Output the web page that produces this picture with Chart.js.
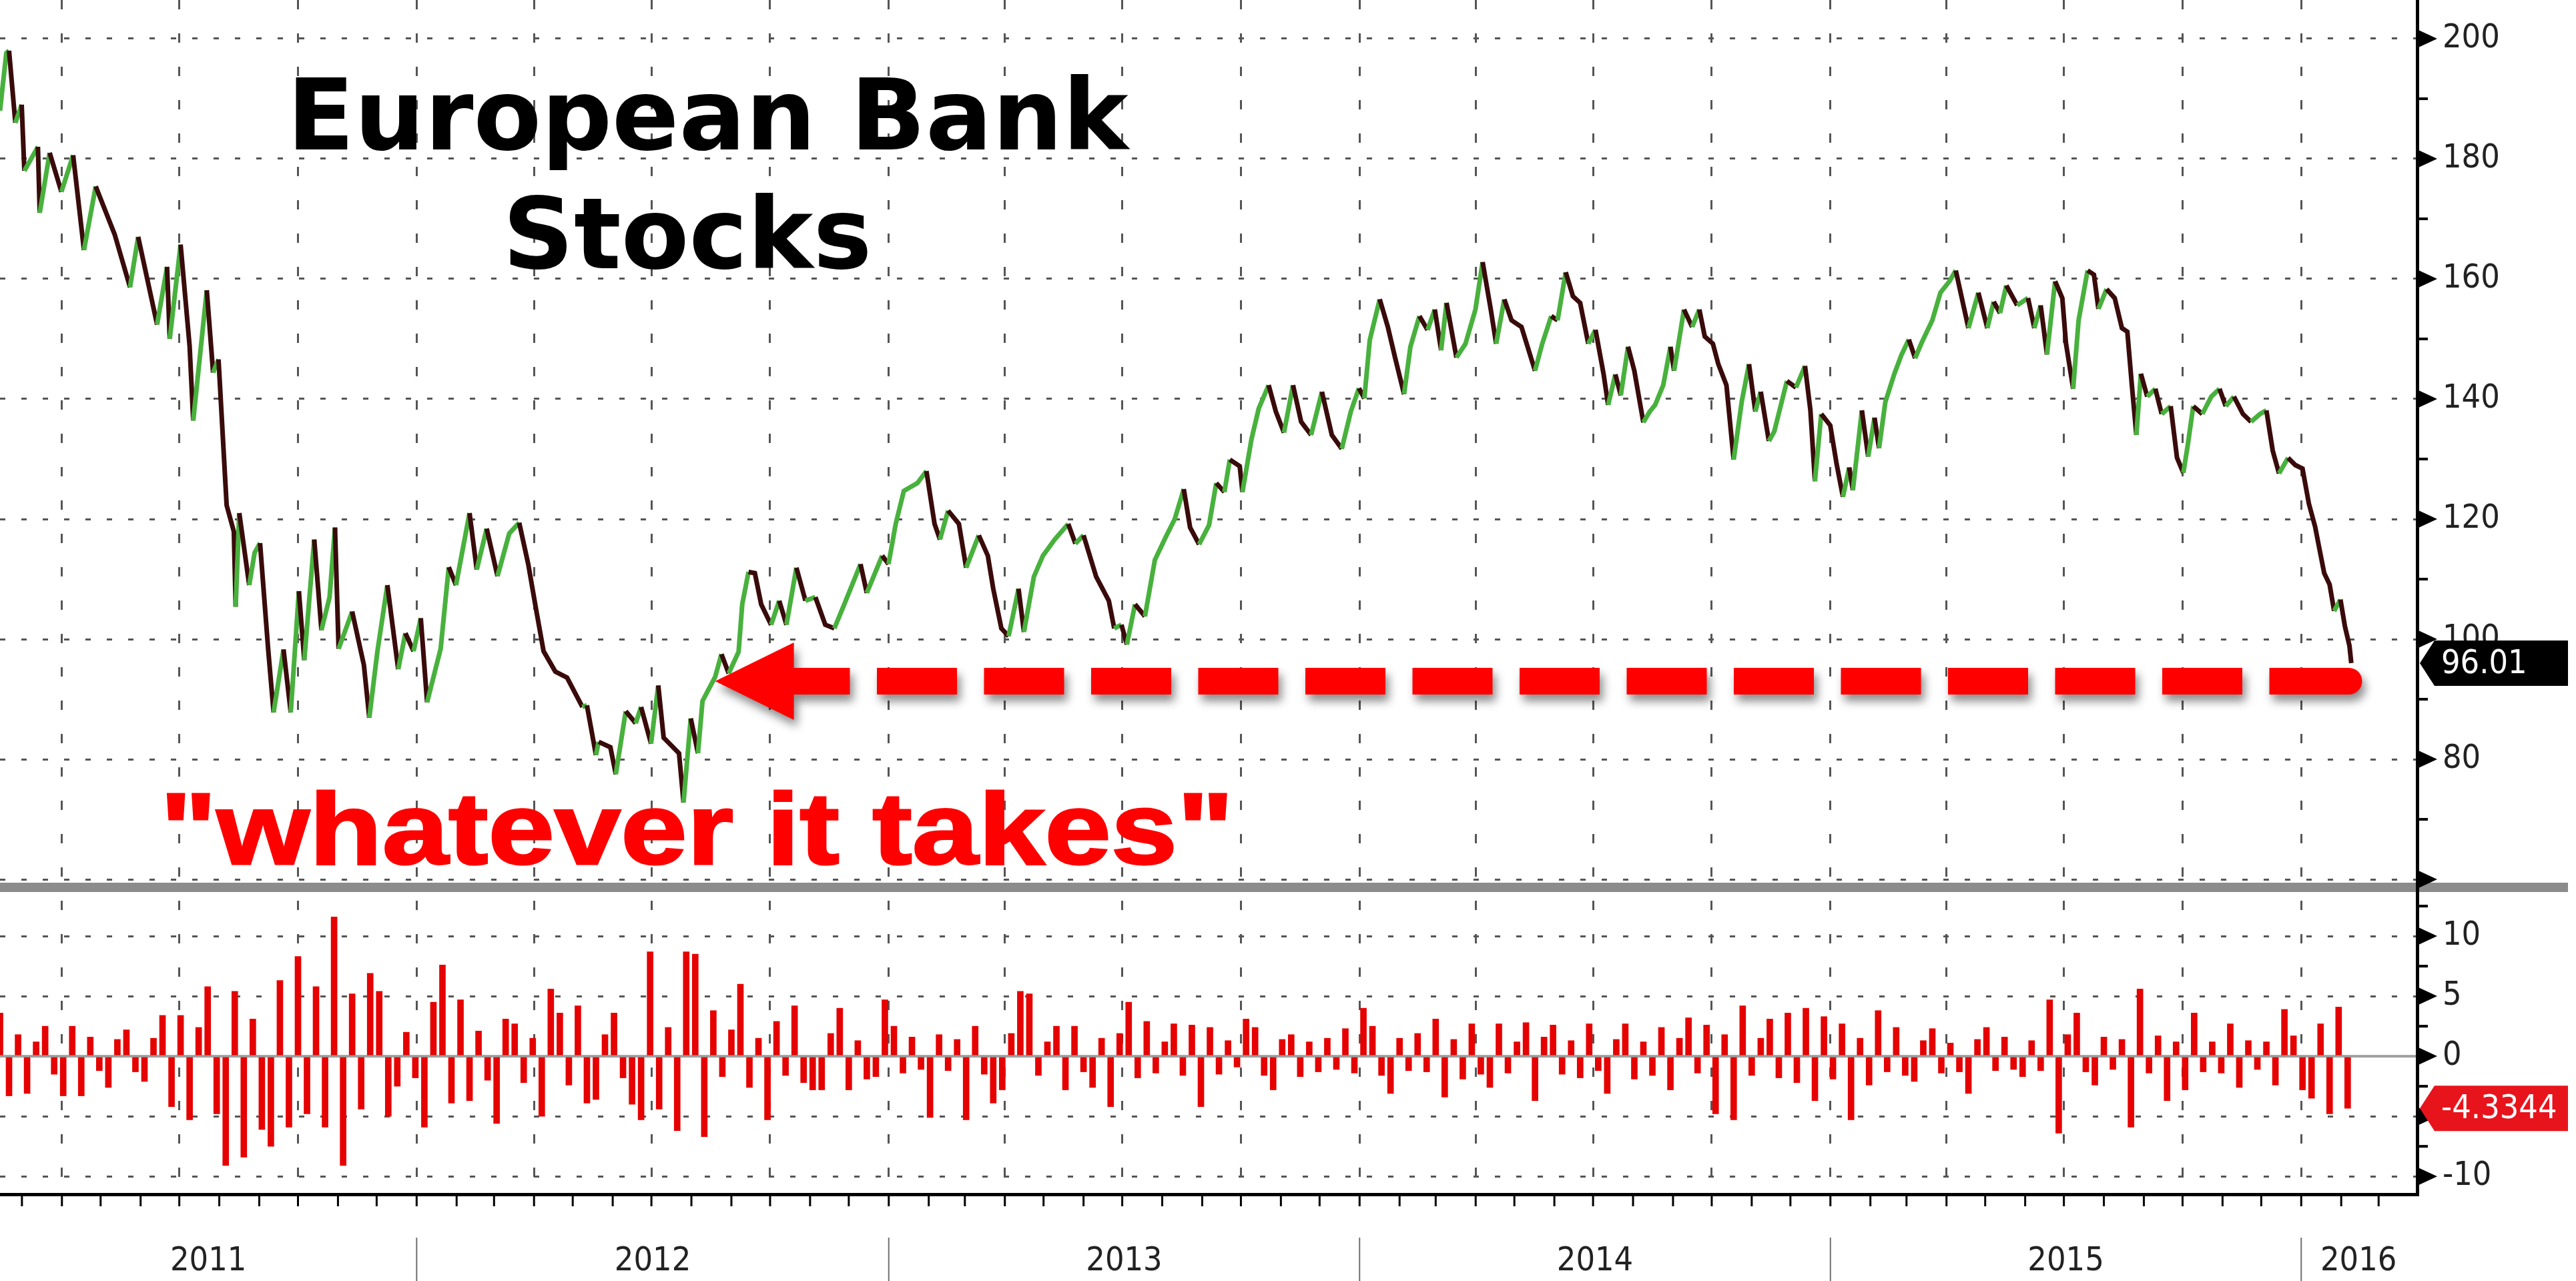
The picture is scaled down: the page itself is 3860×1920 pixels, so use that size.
<!DOCTYPE html>
<html>
<head>
<meta charset="utf-8">
<title>European Bank Stocks</title>
<script src="https://cdn.jsdelivr.net/npm/chart.js@4.4.1/dist/chart.umd.min.js"></script>
<style>
    html, body { margin: 0; padding: 0; background: #fff; }
    #wrap { position: relative; width: 3860px; height: 1920px; overflow: hidden; }
    #chart { position: absolute; left: 0; top: 0; }
    .note { position: absolute; white-space: nowrap; }
    #title {
        left: 430px; top: 84px; width: 1200px; text-align: center;
        font: bold 148px/178px "DejaVu Sans", sans-serif; color: #000;
    }
    #quote {
        left: 240px; top: 1166px;
        font: bold 152px/152px "Liberation Sans", Arial, sans-serif; color: #ff0000;
        -webkit-text-stroke: 3px #ff0000;
        transform: scaleX(1.175); transform-origin: 0 0;
    }
</style>
</head>
<body>
<div id="wrap">
    <canvas id="chart" width="3860" height="1920"></canvas>
    <div class="note" id="title">European Bank<br>Stocks</div>
    <div class="note" id="quote">"whatever it takes"</div>
</div>
<script>
// time axis is in weeks since the first close on the chart (12 Feb 2011)
const START = Date.UTC(2011, 1, 12);
const WEEK_MS = 7 * 24 * 3600 * 1000;
const X_MAX = 267.55;

// index level (week, close)
const priceWeeks = [
    0, 0.7, 1.0, 1.7, 2.4, 2.7, 4.2, 4.4, 5.5, 6.8,
    8.1, 9.3, 10.6, 12.7, 14.4, 15.3, 17.4, 18.5, 18.8, 20.0,
    21.0, 21.4, 22.9, 23.6, 24.2, 25.1, 25.9, 26.1, 26.5, 27.6,
    28.2, 28.8, 29.7, 30.3, 31.4, 32.2, 33.1, 33.7, 34.8, 35.6,
    36.5, 37.1, 37.5, 39.0, 40.3, 40.9, 41.8, 42.9, 44.1, 44.9,
    45.8, 46.6, 47.3, 48.8, 49.7, 50.5, 52.0, 52.8, 53.9, 55.1,
    56.4, 57.5, 58.5, 59.4, 60.2, 61.5, 62.8, 64.5, 65.0, 66.0,
    66.3, 67.6, 68.2, 69.3, 70.4, 71.0, 72.1, 72.9, 73.5, 75.2,
    75.7, 76.5, 77.3, 77.8, 79.2, 79.9, 80.7, 81.8, 82.2, 82.9,
    83.6, 84.3, 85.4, 86.3, 87.1, 88.2, 89.2, 90.3, 91.4, 92.4,
    93.5, 95.3, 96.0, 97.7, 98.4, 99.2, 100.1, 101.6, 102.6, 103.5,
    104.1, 105.0, 106.2, 107.0, 108.4, 109.4, 110.0, 110.9, 111.7, 112.8,
    113.4, 114.5, 115.5, 116.8, 118.3, 119.1, 120.0, 121.4, 122.8, 123.4,
    124.2, 124.8, 125.7, 126.8, 127.9, 129.1, 130.1, 131.1, 131.8, 132.8,
    133.9, 134.7, 135.6, 136.2, 137.3, 137.6, 138.6, 139.4, 140.5, 141.3,
    142.2, 143.2, 144.1, 145.2, 146.4, 147.5, 148.6, 149.6, 150.5, 151.1,
    151.7, 152.8, 153.7, 154.5, 155.5, 156.2, 157.2, 158.1, 158.9, 159.6,
    160.2, 161.3, 162.3, 163.4, 164.2, 165.1, 165.7, 166.6, 167.4, 168.5,
    170.0, 170.8, 171.8, 172.5, 173.4, 174.2, 175.0, 175.9, 176.7, 177.6,
    178.1, 178.9, 179.5, 180.3, 181.0, 182.0, 182.7, 183.3, 184.2, 185.0,
    185.4, 186.5, 187.4, 188.2, 188.8, 189.7, 190.3, 191.2, 192.0, 192.9,
    193.7, 194.4, 195.0, 195.9, 196.5, 197.9, 198.9, 199.9, 200.5, 201.0,
    201.7, 202.7, 203.4, 204.1, 204.8, 205.2, 206.2, 206.9, 207.6, 208.1,
    208.8, 209.8, 210.6, 211.4, 212.1, 212.8, 214.0, 214.9, 215.9, 216.6,
    218.0, 219.1, 220.1, 220.8, 221.5, 222.2, 223.4, 224.6, 225.3, 226.0,
    226.7, 227.6, 228.4, 228.8, 229.6, 230.2, 231.2, 231.9, 232.4, 233.3,
    234.2, 235.0, 235.6, 236.1, 236.6, 237.1, 237.8, 238.7, 239.4, 240.4,
    241.1, 241.8, 242.3, 242.9, 243.9, 244.9, 245.8, 246.5, 247.4, 248.4,
    249.3, 250.3, 251.0, 251.7, 252.4, 253.4, 254.2, 255.0, 255.7, 256.4,
    256.8, 257.4, 258.0, 258.5, 259.2, 259.7, 260.2, 260.4
];
const priceValues = [
    188, 197.6, 198, 186, 189, 178, 182, 171, 181, 174.5,
    180.6, 164.8, 175.4, 167.4, 158.6, 167, 152.4, 162, 150, 165.7,
    148.8, 136.4, 158.1, 144.4, 146.6, 122.3, 117.9, 105.4, 121, 109,
    114.4, 116, 98.3, 87.8, 98.3, 87.8, 108, 96.5, 116.6, 101.5,
    107, 118.6, 98.4, 104.6, 95.7, 86.9, 98, 109, 95, 101,
    98, 103.5, 89.5, 98.4, 112, 109, 121, 111.6, 118.4, 110.5,
    117.6, 119.4, 112.5, 104.7, 98, 94.6, 93.6, 88.7, 89, 80.7,
    82.9, 82, 77.5, 88, 86, 88.7, 82.6, 92.3, 83.6, 81,
    72.8, 86.8, 81, 89.7, 93.7, 97.5, 94.3, 97.9, 105.8, 111.2,
    111, 105.8, 102.4, 106.4, 102.4, 111.9, 106.4, 107, 102.4, 101.8,
    105.8, 112.5, 107.7, 113.9, 112.5, 119.2, 124.7, 126, 128, 119.2,
    116.6, 121.4, 119.2, 111.9, 117.3, 113.9, 108.4, 101.8, 100.5, 108.4,
    101.2, 110.4, 113.9, 116.6, 119.2, 115.9, 117.3, 110.4, 106.4, 101.8,
    102.4, 99.1, 105.8, 103.8, 113.2, 117, 120, 125, 118.6, 115.8,
    119, 126, 124.5, 129.9, 128.8, 124.5, 133.3, 138.4, 142.3, 137.9,
    134.4, 142.3, 136.2, 134, 141.2, 134, 131.7, 137.9, 141.8, 140.1,
    149.8, 156.6, 152, 146.9, 140.8, 148.7, 153.8, 151.5, 154.9, 148.1,
    156, 146.9, 149.2, 154.9, 162.8, 154.9, 149.2, 156.6, 153.1, 152,
    144.7, 149.2, 153.8, 153.1, 161.1, 157.1, 156, 149.2, 151.5, 144.1,
    139, 144.1, 140.6, 148.7, 144.7, 136.1, 137.9, 139, 142.3, 148.7,
    144.7, 154.9, 152, 154.9, 150.4, 149.2, 145.8, 142.3, 129.9, 139.6,
    145.8, 137.9, 141.2, 133, 134.6, 143, 141.9, 145.5, 138.1, 126.3,
    137.5, 135.6, 129.2, 123.7, 128.6, 124.8, 138.1, 130.4, 136.9, 131.8,
    139.5, 144.2, 147.4, 149.9, 146.8, 149.3, 153.1, 157.7, 159.6, 161.4,
    151.8, 157.7, 151.8, 156.2, 154.3, 158.9, 155.6, 156.8, 151.8, 155.6,
    147.4, 159.6, 156.8, 149.3, 141.7, 153.1, 161.4, 160.7, 155, 158.3,
    156.8, 151.8, 151.2, 142.3, 134, 144.2, 140.4, 141.7, 137.5, 138.8,
    130.2, 127.7, 132.4, 138.8, 137.5, 140.4, 141.7, 138.8, 140.4, 137.5,
    136.2, 137.5, 138.1, 131.4, 127.6, 130.2, 129, 128.4, 122.6, 118.7,
    115.6, 111, 109.1, 104.7, 106.6, 102.1, 98.9, 96.01
];

// % change panel, one bar per week from week 0
const changeValues = [
    3.6, -3.3, 1.8, -3.1, 1.2, 2.5, -1.5, -3.3, 2.5, -3.3,
    1.6, -1.2, -2.6, 1.4, 2.2, -1.3, -2.1, 1.5, 3.4, -4.2,
    3.4, -5.3, 2.4, 5.8, -4.8, -9.1, 5.4, -8.4, 3.1, -6.1,
    -7.5, 6.3, -5.9, 8.3, -4.8, 5.8, -5.9, 11.6, -9.1, 5.2,
    -4.4, 6.9, 5.4, -5, -2.5, 2, -1.8, -5.9, 4.5, 7.6,
    -3.9, 4.7, -3.7, 2.1, -2, -5.6, 3.1, 2.7, -2.2, 1.5,
    -5, 5.6, 3.6, -2.4, 4.2, -3.9, -3.6, 1.8, 3.6, -1.8,
    -4, -5.3, 8.7, -4.4, 2.4, -6.2, 8.7, 8.5, -6.7, 3.8,
    -1.7, 2.2, 6, -2.6, 1.5, -5.3, 2.9, -1.6, 4.2, -2.2,
    -2.8, -2.8, 1.9, 4, -2.8, 1.3, -1.9, -1.7, 4.7, 2.5,
    -1.4, 1.6, -1.1, -5.1, 1.8, -1.2, 1.4, -5.3, 2.5, -1.5,
    -3.9, -2.8, 1.9, 5.4, 5.2, -1.6, 1.2, 2.5, -2.8, 2.5,
    -1.3, -2.6, 1.5, -4.2, 1.9, 4.5, -1.8, 2.9, -1.4, 1.2,
    2.7, -1.6, 2.6, -4.2, 2.4, -1.5, 1.3, -0.9, 3.1, 2.4,
    -1.6, -2.8, 1.4, 1.8, -1.7, 1.2, -1.3, 1.5, -1.1, 2.3,
    -1.4, 4, 2.5, -1.6, -3.1, 1.5, -1.2, 1.9, -1.3, 3.1,
    -3.4, 1.4, -1.9, 2.7, -1.5, -2.6, 2.7, -1.4, 1.2, 2.8,
    -3.7, 1.6, 2.6, -1.5, 1.3, -1.8, 2.7, -1.2, -3.1, 1.4,
    2.7, -1.9, 1.2, -1.6, 2.4, -2.8, 1.5, 3.2, -1.4, 2.6,
    -4.8, 1.8, -5.3, 4.2, -1.6, 1.5, 3.1, -1.8, 3.6, -2.2,
    4, -3.7, 3.3, -1.9, 2.7, -5.3, 1.5, -2.4, 3.8, -1.3,
    2.4, -1.6, -2.1, 1.3, 2.3, -1.4, 1.1, -1.3, -3.1, 1.4,
    2.4, -1.2, 1.6, -1.1, -1.7, 1.3, -1.2, 4.7, -6.4, 1.8,
    3.6, -1.3, -2.4, 1.6, -1.1, 1.4, -5.9, 5.6, -1.4, 1.7,
    -3.7, 1.2, -2.8, 3.6, -1.3, 1.2, -1.4, 2.7, -2.6, 1.3,
    -1.1, 1.2, -2.4, 3.9, 1.7, -2.8, -3.5, 2.7, -4.8, 4.1,
    -4.3344
];

const yearLabels = ['2011', '2012', '2013', '2014', '2015', '2016'];

// the red arrow: level carried back to the July 2012 speech
const arrowLevel = 93;
const arrowWeeks = [79.2, 261.6];

const GREEN = '#48b13d';
const DARK = '#3a0b0b';
const RED = '#ff0000';
const GRID = '#555555';
const AXIS_FONT = { family: "'DejaVu Sans Condensed', 'DejaVu Sans', sans-serif", size: 50 };

function weekOf(y, m, d) {
    return (Date.UTC(y, m, d) - START) / WEEK_MS;
}

function buildXTicks(scale) {
    const ticks = [];
    yearLabels.forEach(label => {
        const yr = Number(label);
        for (let m = 0; m < 12; m += 3) {
            const w = weekOf(yr, m, 1);
            if (w > scale.min && w < scale.max) ticks.push({ value: w, grid: true, text: '' });
        }
        // year name sits in the middle of the visible part of the year
        const lo = Math.max(scale.min, weekOf(yr, 0, 1));
        const hi = Math.min(scale.max, weekOf(yr + 1, 0, 1));
        if (hi > lo) ticks.push({ value: (lo + hi) / 2, grid: false, text: label });
    });
    ticks.sort((a, b) => a.value - b.value);
    scale.ticks = ticks;
}

function panelTicks(from, to, step, bigStep) {
    return function (scale) {
        const ticks = [];
        for (let v = from; v <= to + 1e-9; v += step) {
            ticks.push({ value: v, big: Math.abs(v % bigStep) < 1e-9 });
        }
        scale.ticks = ticks;
    };
}

function fitRight(scale) {
    scale.width = 240;
    scale.paddingTop = 0;
    scale.paddingBottom = 0;
}

function drawArrow(chart) {
    const { ctx, scales: { x, y } } = chart;
    const yc = y.getPixelForValue(arrowLevel);
    const tip = x.getPixelForValue(arrowWeeks[0]);
    const end = x.getPixelForValue(arrowWeeks[1]);
    const half = 20, headLen = 118, headHalf = 58, dash = 120, gap = 40.5, lastDash = 139;
    const base = tip + headLen;

    ctx.save();
    ctx.fillStyle = RED;
    ctx.shadowColor = 'rgba(0,0,0,0.45)';
    ctx.shadowBlur = 14;
    ctx.shadowOffsetX = 5;
    ctx.shadowOffsetY = 10;
    ctx.beginPath();
    ctx.moveTo(tip, yc);
    ctx.lineTo(base, yc - headHalf);
    ctx.lineTo(base, yc + headHalf);
    ctx.closePath();

    let right = end;
    let first = true;
    while (right > base) {
        const left = Math.max(base, right - (first ? lastDash : dash));
        if (first) {
            ctx.moveTo(left, yc - half);
            ctx.lineTo(right - half, yc - half);
            ctx.arc(right - half, yc, half, -Math.PI / 2, Math.PI / 2);
            ctx.lineTo(left, yc + half);
            ctx.closePath();
        } else {
            ctx.rect(left, yc - half, right - left, 2 * half);
        }
        right = left - gap;
        first = false;
    }
    ctx.fill();
    ctx.restore();
}

function drawFrame(chart) {
    const { ctx, chartArea: a, scales: { x, y, y2 } } = chart;
    ctx.save();

    // zero line of the change panel
    const y0 = y2.getPixelForValue(0);
    ctx.fillStyle = 'rgba(128,128,128,0.75)';
    ctx.fillRect(a.left, y0 - 2, a.right - a.left, 4);

    // grey bar between the panels
    ctx.fillStyle = '#8c8c8c';
    ctx.fillRect(0, y.bottom - 7, chart.width - 12, 14);

    ctx.fillStyle = '#000';
    ctx.fillRect(a.right, 0, 5, a.bottom + 5);
    ctx.fillRect(0, a.bottom, a.right + 5, 5);

    [y, y2].forEach(s => s.ticks.forEach(t => {
        const py = s.getPixelForValue(t.value);
        if (t.big) {
            ctx.beginPath();
            ctx.moveTo(a.right + 4, py - 13);
            ctx.lineTo(a.right + 32, py);
            ctx.lineTo(a.right + 4, py + 13);
            ctx.closePath();
            ctx.fill();
        } else {
            ctx.fillRect(a.right + 4, py - 2, 14, 4);
        }
    }));

    yearLabels.forEach(label => {
        const yr = Number(label);
        for (let m = 0; m < 12; m++) {
            const w = weekOf(yr, m, 1);
            if (w <= x.min || w >= x.max) continue;
            ctx.fillRect(x.getPixelForValue(w) - 1.5, a.bottom + 5, 3, 15);
        }
    });

    ctx.fillStyle = '#707070';
    yearLabels.forEach(label => {
        const w = weekOf(Number(label), 0, 1);
        if (w <= x.min || w >= x.max) return;
        ctx.fillRect(x.getPixelForValue(w) - 1, a.bottom + 67, 2, chart.height - a.bottom - 67);
    });
    ctx.restore();
}

function drawTag(chart, py, text, fill) {
    const { ctx, chartArea: a } = chart;
    const right = chart.width - 12;
    ctx.save();
    ctx.beginPath();
    ctx.moveTo(a.right + 6, py);
    ctx.lineTo(a.right + 28, py - 34);
    ctx.lineTo(right, py - 34);
    ctx.lineTo(right, py + 34);
    ctx.lineTo(a.right + 28, py + 34);
    ctx.closePath();
    ctx.fillStyle = fill;
    ctx.fill();
    ctx.fillStyle = '#fff';
    ctx.font = AXIS_FONT.size + 'px ' + AXIS_FONT.family;
    ctx.textAlign = 'left';
    ctx.textBaseline = 'middle';
    ctx.fillText(text, a.right + 38, py + 2);
    ctx.restore();
}

const decorations = {
    id: 'decorations',
    afterDatasetsDraw(chart) {
        drawArrow(chart);
    },
    afterDraw(chart) {
        drawFrame(chart);
        const lastPrice = priceValues[priceValues.length - 1];
        const lastChange = changeValues[changeValues.length - 1];
        drawTag(chart, chart.scales.y.getPixelForValue(lastPrice), lastPrice.toFixed(2), '#000');
        drawTag(chart, chart.scales.y2.getPixelForValue(lastChange), String(lastChange), '#e8141c');
    }
};

const priceChart = new Chart(document.getElementById('chart'), {
    type: 'bar',
    data: {
        datasets: [{
            type: 'line',
            label: 'European bank stocks',
            data: priceWeeks.map((w, i) => ({ x: w, y: priceValues[i] })),
            yAxisID: 'y',
            borderColor: GREEN,
            borderWidth: 7,
            pointRadius: 0,
            tension: 0,
            segment: {
                borderColor: c => c.p1.parsed.y >= c.p0.parsed.y ? GREEN : DARK
            }
        }, {
            type: 'bar',
            label: '% change',
            data: changeValues.map((v, i) => ({ x: i, y: v })),
            yAxisID: 'y2',
            backgroundColor: '#e60000',
            barThickness: 9
        }]
    },
    options: {
        responsive: false,
        devicePixelRatio: 1,
        animation: false,
        events: [],
        layout: { padding: 0 },
        plugins: {
            legend: { display: false },
            tooltip: { enabled: false }
        },
        scales: {
            x: {
                type: 'linear',
                min: 0,
                max: X_MAX,
                offset: false,
                afterBuildTicks: buildXTicks,
                afterFit: s => { s.height = 132; s.paddingLeft = 0; s.paddingRight = 0; },
                grid: {
                    color: c => (c.tick && c.tick.grid) ? GRID : 'rgba(0,0,0,0)',
                    lineWidth: 3,
                    drawTicks: false,
                    offset: false
                },
                border: { display: false, dash: [14, 36] },
                ticks: {
                    autoSkip: false,
                    maxRotation: 0,
                    padding: 73,
                    color: '#222',
                    font: AXIS_FONT,
                    callback: (v, i, t) => t[i].text
                }
            },
            y: {
                type: 'linear',
                position: 'right',
                stack: 'panels',
                stackWeight: 1330,
                min: 58.67,
                max: 206.44,
                afterBuildTicks: panelTicks(60, 200, 10, 20),
                afterFit: fitRight,
                grid: {
                    color: c => (c.tick && c.tick.big) ? GRID : 'rgba(0,0,0,0)',
                    lineWidth: 3,
                    drawTicks: false
                },
                border: { display: false, dash: [8, 24] },
                ticks: {
                    autoSkip: false,
                    padding: 40,
                    color: '#222',
                    font: AXIS_FONT,
                    callback: (v, i, t) => (t[i].big && v >= 80) ? String(v) : ''
                }
            },
            y2: {
                type: 'linear',
                position: 'right',
                stack: 'panels',
                stackWeight: 458,
                min: -11.38,
                max: 14.06,
                afterBuildTicks: panelTicks(-10, 12.5, 2.5, 5),
                afterFit: fitRight,
                grid: {
                    color: c => (c.tick && c.tick.big && c.tick.value !== 0) ? GRID : 'rgba(0,0,0,0)',
                    lineWidth: 3,
                    drawTicks: false
                },
                border: { display: false, dash: [8, 24] },
                ticks: {
                    autoSkip: false,
                    padding: 40,
                    color: '#222',
                    font: AXIS_FONT,
                    callback: (v, i, t) => t[i].big ? String(v) : ''
                }
            }
        }
    },
    plugins: [decorations]
});
</script>
</body>
</html>
